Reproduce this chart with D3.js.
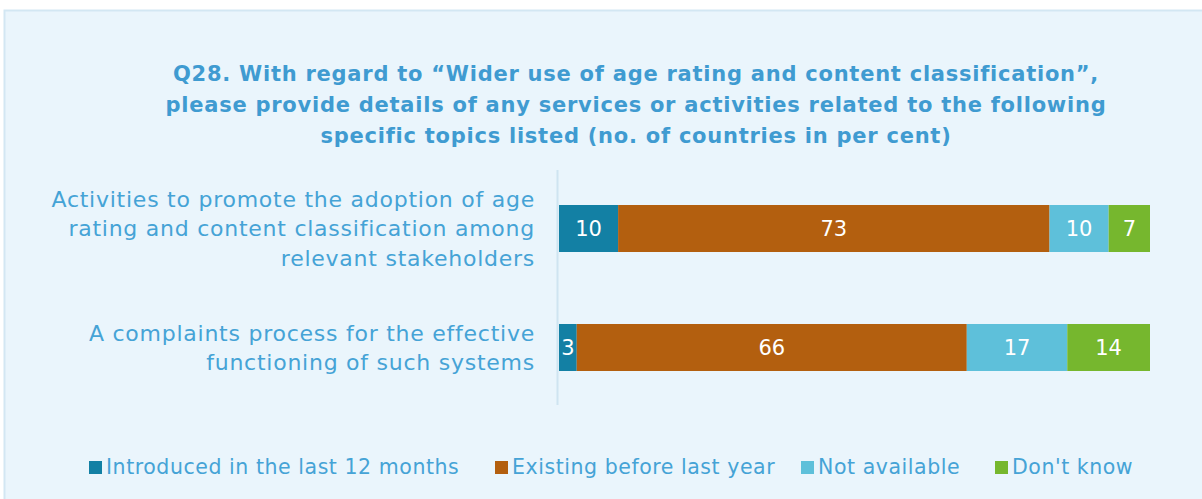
<!DOCTYPE html>
<html>
<head>
<meta charset="utf-8">
<script src="https://cdn.jsdelivr.net/npm/d3@7"></script>
<style>
  html, body { margin: 0; padding: 0; background: #ffffff; }
  svg { display: block; }
</style>
</head>
<body>
<svg id="chart" width="1202" height="499"></svg>
<script>
// Survey topics (y categories) and response shares per series, in per cent
const categories = [
  ["Activities to promote the adoption of age", "rating and content classification among", "relevant stakeholders"],
  ["A complaints process for the effective", "functioning of such systems"]
];
const seriesNames = ["Introduced in the last 12 months", "Existing before last year", "Not available", "Don't know"];
const introduced = [10, 3];
const existing = [73, 66];
const notAvailable = [10, 17];
const dontKnow = [7, 14];
const seriesColors = ["#1380a4", "#b35f0f", "#5ec0da", "#76b72e"];
const titleLines = [
  "Q28. With regard to \u201cWider use of age rating and content classification\u201d,",
  "please provide details of any services or activities related to the following",
  "specific topics listed (no. of countries in per cent)"
];

const svg = d3.select("#chart");
const W = 1202, H = 499;
const textColor = "#45a3d6";
const font = "'DejaVu Sans', sans-serif";

// Panel background
svg.append("rect").attr("x", 4.5).attr("y", 10.5).attr("width", W).attr("height", H)
  .attr("fill", "#eaf5fc").attr("stroke", "#d3e7f3").attr("stroke-width", 2);

// Title
svg.append("g").selectAll("text").data(titleLines).join("text")
  .attr("x", 636).attr("y", (d, i) => 81 + i * 31)
  .attr("text-anchor", "middle")
  .attr("font-family", font).attr("font-weight", "bold").attr("font-size", 21)
  .attr("letter-spacing", 0.75)
  .attr("fill", "#3f9bd1")
  .text(d => d);

// Scales
const plot = { left: 559, right: 1150, top: 170, bottom: 405 };
const x = d3.scaleLinear().domain([0, 100]).range([plot.left, plot.right]);
const y = d3.scaleBand().domain(d3.range(categories.length))
  .range([205, 371]).paddingInner(0.605).paddingOuter(0);

// Stack data
const rows = categories.map((c, i) => ({
  idx: i,
  [seriesNames[0]]: introduced[i],
  [seriesNames[1]]: existing[i],
  [seriesNames[2]]: notAvailable[i],
  [seriesNames[3]]: dontKnow[i]
}));
const stacked = d3.stack().keys(seriesNames)(rows);

const layers = svg.append("g").selectAll("g").data(stacked).join("g")
  .attr("fill", (d, i) => seriesColors[i]);

layers.selectAll("rect").data(d => d).join("rect")
  .attr("x", d => x(d[0]))
  .attr("y", d => y(d.data.idx))
  .attr("width", d => x(d[1]) - x(d[0]))
  .attr("height", y.bandwidth());

// Value labels
layers.selectAll("text").data(d => d).join("text")
  .attr("x", d => (x(d[0]) + x(d[1])) / 2)
  .attr("y", d => y(d.data.idx) + y.bandwidth() / 2)
  .attr("dy", "0.36em")
  .attr("text-anchor", "middle")
  .attr("font-family", font).attr("font-size", 21)
  .attr("fill", "#ffffff")
  .text(d => d[1] - d[0]);

// Y axis line
svg.append("line")
  .attr("x1", plot.left - 1.5).attr("x2", plot.left - 1.5)
  .attr("y1", plot.top).attr("y2", plot.bottom)
  .attr("stroke", "#cfe4f1").attr("stroke-width", 2);

// Category labels
const labelG = svg.append("g");
categories.forEach((lines, i) => {
  const cy = y(i) + y.bandwidth() / 2;
  const lh = 29.5;
  lines.forEach((ln, j) => {
    labelG.append("text")
      .attr("x", 535)
      .attr("y", cy + (j - (lines.length - 1) / 2) * lh)
      .attr("dy", "0.36em")
      .attr("text-anchor", "end")
      .attr("font-family", font).attr("font-size", 22)
      .attr("letter-spacing", 0.75)
      .attr("fill", textColor)
      .text(ln);
  });
});

// Legend
const legendX = [89, 495, 801, 995];
const legend = svg.append("g").selectAll("g").data(seriesNames).join("g")
  .attr("transform", (d, i) => `translate(${legendX[i]},467)`);
legend.append("rect").attr("x", 0).attr("y", -6).attr("width", 13).attr("height", 13)
  .attr("fill", (d, i) => seriesColors[i]);
legend.append("text").attr("x", 17).attr("y", 0).attr("dy", "0.36em")
  .attr("font-family", font).attr("font-size", 20.5)
  .attr("letter-spacing", 0.55)
  .attr("fill", textColor)
  .text(d => d);
</script>
</body>
</html>
